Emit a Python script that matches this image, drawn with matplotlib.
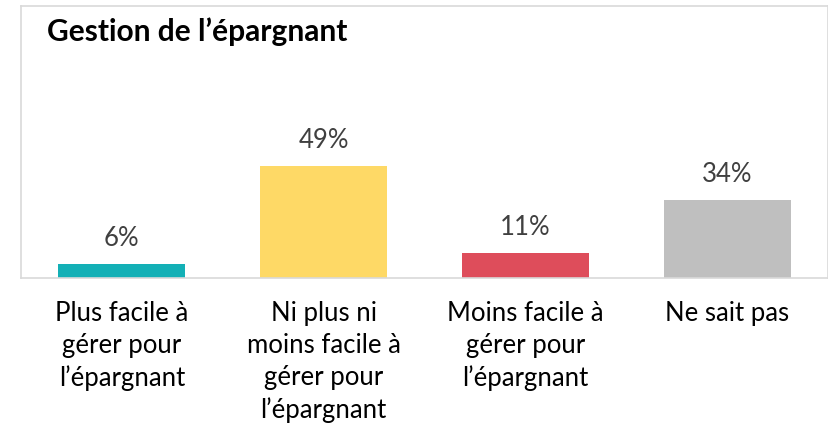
import matplotlib.pyplot as plt
import numpy as np

plt.rcParams['font.family'] = ['Lato', 'DejaVu Sans']

# data
categories = ["Plus facile à\ngérer pour\nl\u2019épargnant",
              "Ni plus ni\nmoins facile à\ngérer pour\nl\u2019épargnant",
              "Moins facile à\ngérer pour\nl\u2019épargnant",
              "Ne sait pas"]
values = [6, 49, 11, 34]
bar_colors = ['#13B0B6', '#FED966', '#DE4D5B', '#BFBFBF']
title = "Gestion de l\u2019épargnant"

W, H = 829, 427
fig = plt.figure(figsize=(W / 100, H / 100), dpi=100)
ax = fig.add_axes([21 / W, (H - 279) / H, 807 / W, 272 / H])

x = np.arange(len(values))
bars = ax.bar(x, values, width=0.63, color=bar_colors, zorder=2)

ax.set_xlim(-0.5, len(values) - 0.5)
ax.set_ylim(0, 119)
ax.set_yticks([])
ax.set_xticks(x)
ax.set_xticklabels(categories, fontsize=18.5, color='black', linespacing=1.34)
ax.tick_params(axis='x', length=0, pad=16)

for s in ax.spines.values():
    s.set_color('#D9D9D9')
    s.set_linewidth(1.2)

# value labels above each bar
for b, v in zip(bars, values):
    ax.annotate(f"{v}%", (b.get_x() + b.get_width() / 2, b.get_height()),
                xytext=(0, 13.7), textcoords='offset points',
                ha='center', va='baseline', fontsize=18.5, color='#404040')

fig.text(47 / W, 1 - 41 / H, title, fontsize=21.5, fontweight='bold',
         ha='left', va='baseline', color='black')

fig.savefig('out.png', dpi=100)
